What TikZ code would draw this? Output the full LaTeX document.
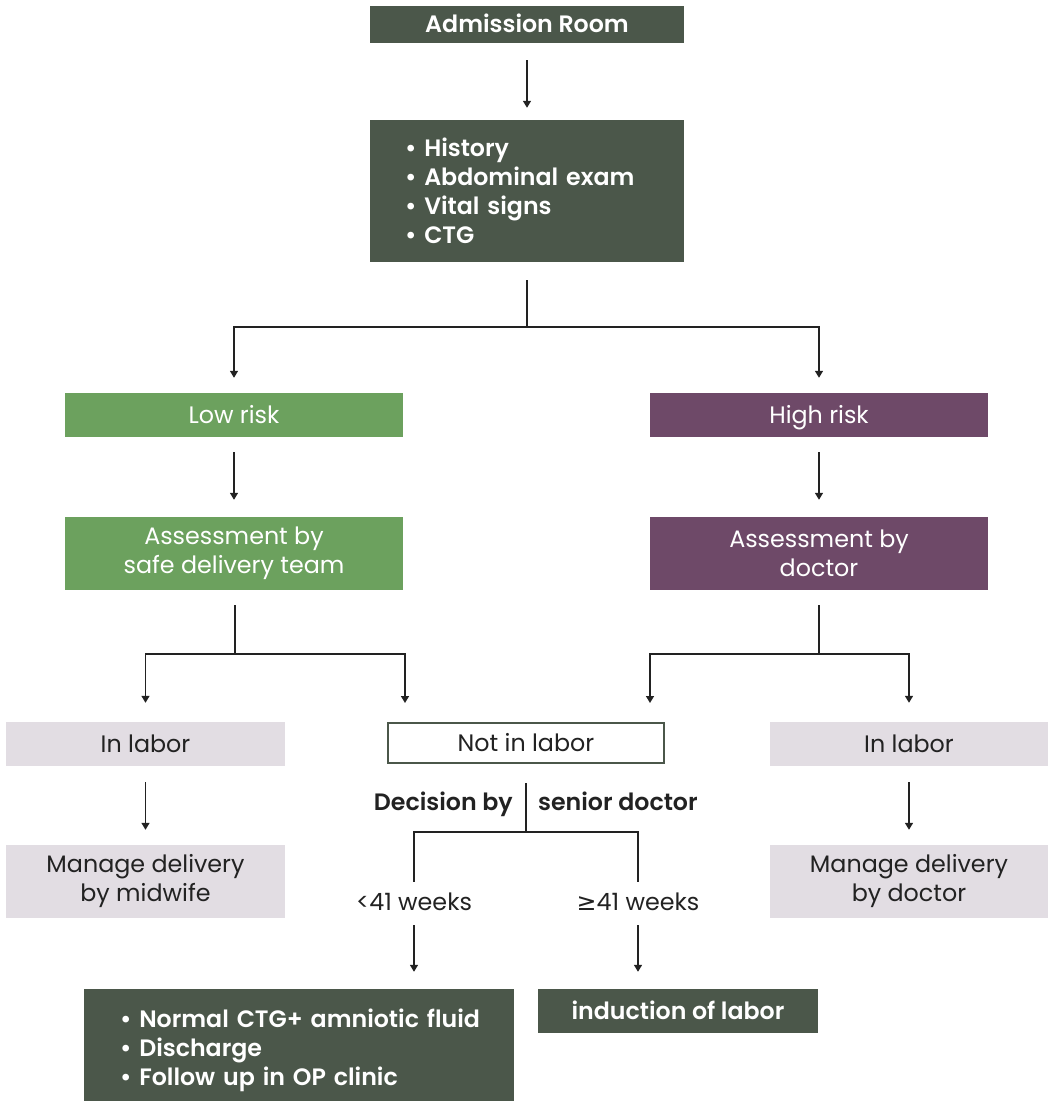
\documentclass[tikz,border=0pt]{standalone}
\usepackage{fontspec}
\setmainfont{Poppins}[BoldFont={Poppins SemiBold}]
\newfontfamily\symfont{DejaVu Sans}
\usetikzlibrary{arrows.meta}
\definecolor{slate}{RGB}{75,87,74}
\definecolor{leaf}{RGB}{108,161,94}
\definecolor{plum}{RGB}{110,73,104}
\definecolor{mist}{RGB}{226,221,227}
\definecolor{ink}{RGB}{34,34,34}
\tikzset{
  box/.style={rectangle, inner sep=0pt, align=center, font=\fontsize{23.8}{29}\selectfont},
  oneline/.style={text height=16.5pt, text depth=0pt},
  darkbox/.style={box, fill=slate, text=white, font=\fontsize{23.7}{29}\selectfont\bfseries},
  listtext/.style={inner sep=0pt, align=left, text=white, font=\fontsize{23.7}{29}\selectfont\bfseries},
  lowbox/.style={box, fill=leaf, text=white},
  highbox/.style={box, fill=plum, text=white},
  labbox/.style={box, fill=mist, text=ink},
  openbox/.style={box, draw=slate, line width=2pt, fill=white, text=ink},
  tag/.style={inner sep=0pt, minimum height=40pt, text=ink, font=\fontsize{23.8}{29}\selectfont},
  boldtag/.style={inner sep=0pt, text=ink, font=\fontsize{23.7}{29}\selectfont\bfseries},
  link/.style={draw=ink, line width=1.5pt},
  arrow/.style={link, -{Triangle[length=7pt,width=8pt]}},
}
\begin{document}
\begin{tikzpicture}[x=1pt,y=-1pt]
\useasboundingbox (0,0) rectangle (1050,1101);

% top of the chart
\node[darkbox, oneline, minimum width=314pt, minimum height=37pt] (adm) at (527,24.5) {Admission Room};
\node[darkbox, minimum width=314pt, minimum height=142pt] (exam) at (527,191) {};
\node[listtext, text width=244pt] (examlist) at (exam.center)
  {• History\\• Abdominal exam\\• Vital signs\\• CTG};

% risk levels
\node[lowbox, oneline, minimum width=338pt, minimum height=44pt] (low) at (234,415) {Low risk};
\node[highbox, oneline, minimum width=338pt, minimum height=44pt] (high) at (819,415) {High risk};
\node[lowbox, minimum width=338pt, minimum height=73pt] (alow) at (234,553.5) {Assessment by\\safe delivery team};
\node[highbox, minimum width=338pt, minimum height=73pt] (ahigh) at (819,553.5) {Assessment by\\doctor};

% labor status
\node[labbox, oneline, minimum width=279pt, minimum height=44pt] (inl) at (145.5,744) {In labor};
\node[openbox, oneline, minimum width=276pt, minimum height=40pt] (notl) at (526,743) {Not in labor};
\node[labbox, oneline, minimum width=278pt, minimum height=44pt] (inr) at (909,744) {In labor};
\node[labbox, minimum width=279pt, minimum height=73pt] (mml) at (145.5,881.5) {Manage delivery\\by midwife};
\node[labbox, minimum width=278pt, minimum height=73pt] (mmr) at (909,881.5) {Manage delivery\\by doctor};

% senior doctor decision
\node[boldtag, oneline, anchor=east] (dec) at (513,802) {Decision by};
\node[boldtag, oneline, anchor=west] (sen) at (538,802) {senior doctor};
\node[tag] (lt) at (414,902) {<41 weeks};
\node[tag] (ge) at (638,902) {{\symfont ≥}41 weeks};

% outcomes
\node[darkbox, minimum width=430pt, minimum height=112pt] (dis) at (299,1045) {};
\node[listtext, text width=380pt] (dislist) at ([xshift=11pt,yshift=-5pt]dis.center)
  {• Normal CTG+ amniotic fluid\\• Discharge\\• Follow up in OP clinic};
\node[darkbox, oneline, minimum width=280pt, minimum height=44pt] (ind) at (678,1011) {induction of labor};

% connectors
\draw[arrow, shorten <=17pt, shorten >=12pt] (adm.south) -- (exam.north);
\draw[arrow, shorten >=15pt] (exam.south) ++(0,18) -- ++(0,47) -| (low.north);
\draw[arrow, shorten >=15pt] (exam.south) ++(0,18) -- ++(0,47) -| (high.north);
\draw[arrow, shorten <=15pt, shorten >=17pt] (low.south) -- (alow.north);
\draw[arrow, shorten <=15pt, shorten >=17pt] (high.south) -- (ahigh.north);

\draw[arrow, shorten >=19pt] (alow.south) ++(1,15) -- ++(0,49) -| (inl.north);
\draw[arrow, shorten >=19pt] (alow.south) ++(1,15) -- ++(0,49) -| (notl.north -| 405,0);
\draw[arrow, shorten >=19pt] (ahigh.south) ++(0,15) -- ++(0,49) -| (notl.north -| 650,0);
\draw[arrow, shorten >=19pt] (ahigh.south) ++(0,15) -- ++(0,49) -| (inr.north);

\draw[arrow, shorten <=16pt, shorten >=15pt] (inl.south) -- (mml.north);
\draw[arrow, shorten <=16pt, shorten >=15pt] (inr.south) -- (mmr.north);

\draw[link] (notl.south) ++(0,19) -- ++(0,49) -| (lt.north);
\draw[link] (notl.south) ++(0,19) -- ++(0,49) -| (ge.north);
\draw[arrow, shorten <=3pt, shorten >=17pt] (lt.south) -- (lt.south |- dis.north);
\draw[arrow, shorten <=3pt, shorten >=17pt] (ge.south) -- (ge.south |- ind.north);
\end{tikzpicture}
\end{document}
